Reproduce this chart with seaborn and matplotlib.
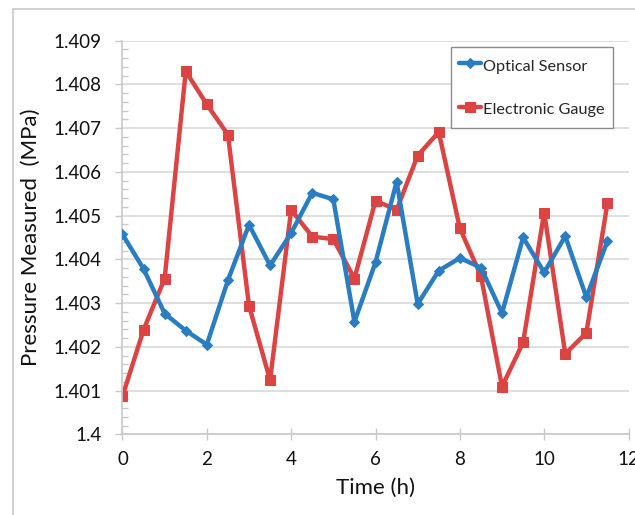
import numpy as np
import pandas as pd
import matplotlib
matplotlib.use("Agg")
import matplotlib.pyplot as plt
from matplotlib.ticker import MultipleLocator
from matplotlib.patches import Rectangle
import seaborn as sns

# values
time_h = [0, 0.5, 1, 1.5, 2, 2.5, 3, 3.5, 4, 4.5, 5, 5.5,
          6, 6.5, 7, 7.5, 8, 8.5, 9, 9.5, 10, 10.5, 11, 11.5]
optical = [1.40457, 1.40378, 1.40276, 1.40237, 1.40205, 1.40352, 1.40479, 1.40386,
           1.40460, 1.40552, 1.40537, 1.40257, 1.40393, 1.40577, 1.40298, 1.40374,
           1.40403, 1.40381, 1.40277, 1.40450, 1.40370, 1.40453, 1.40313, 1.40442]
electronic = [1.40087, 1.40239, 1.40356, 1.40830, 1.40754, 1.40685, 1.40294, 1.40124,
              1.40513, 1.40452, 1.40446, 1.40356, 1.40534, 1.40513, 1.40637, 1.40691,
              1.40471, 1.40362, 1.40109, 1.40210, 1.40507, 1.40184, 1.40232, 1.40528]
x_ticks = [0, 2, 4, 6, 8, 10, 12]
y_ticks = [1.4, 1.401, 1.402, 1.403, 1.404, 1.405, 1.406, 1.407, 1.408, 1.409]
y_labels = ["1.4", "1.401", "1.402", "1.403", "1.404", "1.405", "1.406", "1.407", "1.408", "1.409"]

df = pd.DataFrame({"Time": time_h, "Optical Sensor": optical, "Electronic Gauge": electronic})

sns.set_style("white")
plt.rcParams['font.family'] = ['Lato', 'DejaVu Sans']

fig = plt.figure(figsize=(6.35, 5.15), dpi=100)
ax = fig.add_axes([0.1929, 0.1567, 0.7969, 0.7645])

# chart area border
fig.patches.append(Rectangle((13 / 635, -0.05), 1.2, 1 - 9 / 515 + 0.05, transform=fig.transFigure,
                             fill=False, edgecolor="#c8c8c8", linewidth=1.2))

blue = "#2a7dc0"
red = "#dc4343"
sns.lineplot(data=df, x="Time", y="Optical Sensor", ax=ax, color=blue, linewidth=3.2,
             marker="D", markersize=5.5, markeredgecolor=blue, label="Optical Sensor", zorder=3)
sns.lineplot(data=df, x="Time", y="Electronic Gauge", ax=ax, color=red, linewidth=3.2,
             marker="s", markersize=7.5, markeredgecolor=red, label="Electronic Gauge", zorder=2)

ax.set_xlim(0, 12)
ax.set_ylim(1.4, 1.409)
ax.set_xticks(x_ticks)
ax.set_yticks(y_ticks)
ax.set_yticklabels(y_labels)
ax.yaxis.set_minor_locator(MultipleLocator(0.0002))

ax.grid(axis="y", which="major", color="#d9d9d9", linewidth=1.2)
ax.set_axisbelow(True)
for s in ["top", "right"]:
    ax.spines[s].set_visible(False)
for s in ["left", "bottom"]:
    ax.spines[s].set_color("#c8c8c8")
    ax.spines[s].set_linewidth(1.2)

ax.tick_params(axis="y", which="major", direction="out", length=5, width=1, color="#c8c8c8",
               labelsize=13.5, pad=10, labelcolor="#111111", left=True)
ax.tick_params(axis="y", which="minor", direction="in", length=4, width=1, color="#c8c8c8", left=True)
ax.tick_params(axis="x", which="major", direction="inout", length=8, width=1, color="#c8c8c8",
               labelsize=13.5, pad=8, labelcolor="#111111", bottom=True)

ax.set_xlabel("Time (h)", fontsize=16, color="#111111", labelpad=7)
ax.set_ylabel("Pressure Measured  (MPa)", fontsize=16, color="#111111", labelpad=9)

leg = ax.legend(loc="upper right", bbox_to_anchor=(0.969, 0.984), fontsize=11.7,
                frameon=True, fancybox=False, edgecolor="#8c8c8c", framealpha=1,
                handlelength=1.4, handleheight=1.6, handletextpad=0.1, labelspacing=1.4,
                borderpad=0.5, borderaxespad=0)
leg.get_frame().set_linewidth(1)

fig.savefig("out.png", dpi=100)
